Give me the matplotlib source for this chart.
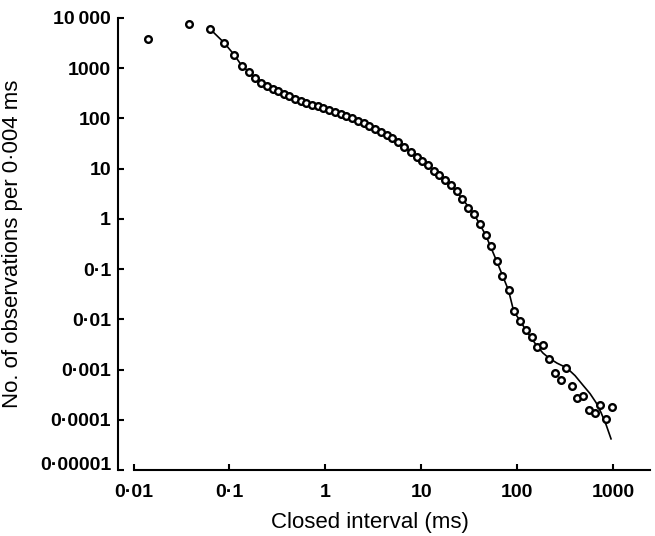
import matplotlib
matplotlib.use("Agg")
import matplotlib.pyplot as plt

plt.rcParams['font.family'] = ['Liberation Sans', 'DejaVu Sans']

# closed interval (ms) and no. of observations per 0.004 ms
interval = [0.01406, 0.0382, 0.0627, 0.0878, 0.1117, 0.1343, 0.1612, 0.1849,
            0.2135, 0.2449, 0.2829, 0.3212, 0.3683, 0.4213, 0.4831, 0.5539,
            0.629, 0.723, 0.829, 0.953, 1.093, 1.256, 1.444, 1.656, 1.903,
            2.183, 2.508, 2.883, 3.306, 3.800, 4.357, 5.009, 5.757, 6.617,
            7.773, 8.978, 10.27, 11.86, 13.60, 15.44, 17.71, 20.30, 23.46,
            26.83, 30.98, 35.53, 41.05, 46.83, 53.43, 60.99, 69.93, 81.34,
            92.15, 107.2, 123.2, 142.0, 162.4, 186.3, 215.1, 245.5, 283.5,
            325.9, 370.9, 424.4, 486.7, 562.0, 641.5, 735.5, 849.4, 971.6]
counts = [3790, 7530, 5990, 3200, 1847, 1116, 826, 627,
          513, 441, 389, 351, 305, 275, 243, 222,
          202, 187, 173, 160, 148, 136, 123, 112, 100.5,
          90.0, 80.3, 70.6, 62.1, 54.2, 46.8, 40.0, 33.9, 27.0,
          21.0, 16.9, 13.8, 11.5, 9.12, 7.50, 5.96, 4.74, 3.49,
          2.50, 1.63, 1.24, 0.796, 0.481, 0.281, 0.146, 0.0713, 0.0376,
          0.01436, 0.00938, 0.00612, 0.00451, 0.00281, 0.00305, 0.00163, 0.000848, 0.000624,
          0.00109, 0.000472, 0.000272, 0.000303, 0.000158, 0.000136, 0.000196, 0.000103, 0.000177]

# fitted curve
fit_t = [0.0627, 0.0878, 0.1117, 0.1343, 0.1612, 0.1849, 0.2449, 0.3212,
         0.4213, 0.5539, 0.723, 0.953, 1.256, 1.656, 2.183, 2.883, 3.800,
         5.009, 6.617, 8.978, 11.86, 15.44, 20.30, 26.83, 35.53, 46.83,
         60.99, 81.34, 92.15, 107.2, 123.2, 139.6, 161.3, 186.3, 215.1,
         260.6, 328.9, 401.8, 490.0, 575.5, 664.9, 749.9, 845.6, 953.2]
fit_y = [5990, 3200, 1847, 1116, 826, 627, 441, 351,
         275, 222, 187, 160, 136, 112, 90.0, 70.6, 54.2,
         40.0, 27.0, 16.9, 11.5, 7.50, 4.74, 2.50, 1.24, 0.481,
         0.146, 0.0376, 0.01436, 0.00938, 0.00612, 0.00431, 0.00292, 0.00212, 0.00169,
         0.00134, 0.00108, 0.000756, 0.000478, 0.000332, 0.000220, 0.000139, 0.0000803, 0.0000417]

xticks = [0.01, 0.1, 1, 10, 100, 1000]
xticklabels = ['0\u00b701', '0\u00b71', '1', '10', '100', '1000']
yticks = [1e-5, 1e-4, 1e-3, 1e-2, 1e-1, 1, 10, 100, 1000, 10000]
yticklabels = ['0\u00b700001', '0\u00b70001', '0\u00b7001', '0\u00b701', '0\u00b71',
               '1', '10', '100', '1000', '10\u2009000']

fig = plt.figure(figsize=(6.55, 5.36), dpi=100)
ax = fig.add_axes([0.1802, 0.1231, 0.8122, 0.862])

ax.plot(fit_t, fit_y, color='black', lw=1.2, zorder=2)
ax.plot(interval, counts, 'o', ms=4.8, mfc='white', mec='black', mew=1.7,
        zorder=3, clip_on=False)

ax.set_xscale('log')
ax.set_yscale('log')
ax.set_xlim(0.00689, 2431)
ax.set_ylim(1e-5, 15660)

ax.spines['top'].set_visible(False)
ax.spines['right'].set_visible(False)
ax.spines['left'].set_bounds(1e-5, 1e4)
ax.spines['bottom'].set_bounds(0.01, 2431)
for s in ['left', 'bottom']:
    ax.spines[s].set_linewidth(1.5)

ax.set_xticks(xticks)
ax.set_xticklabels(xticklabels, fontweight='bold')
ax.set_yticks(yticks)
ax.set_yticklabels(yticklabels, fontweight='bold')
ax.minorticks_off()
ax.tick_params(axis='both', direction='in', length=4, width=1.5, labelsize=14)
ax.tick_params(axis='x', pad=10)
ax.tick_params(axis='y', pad=5)
ax.get_yticklabels()[0].set_va('baseline')

ax.set_xlabel('Closed interval (ms)', fontsize=16)
ax.set_ylabel('No. of observations per 0\u00b7004 ms', fontsize=16)
ax.xaxis.set_label_coords(0.474, -0.09)
ax.yaxis.set_label_coords(-0.178, 0.49)

fig.savefig('out.png', dpi=100)
